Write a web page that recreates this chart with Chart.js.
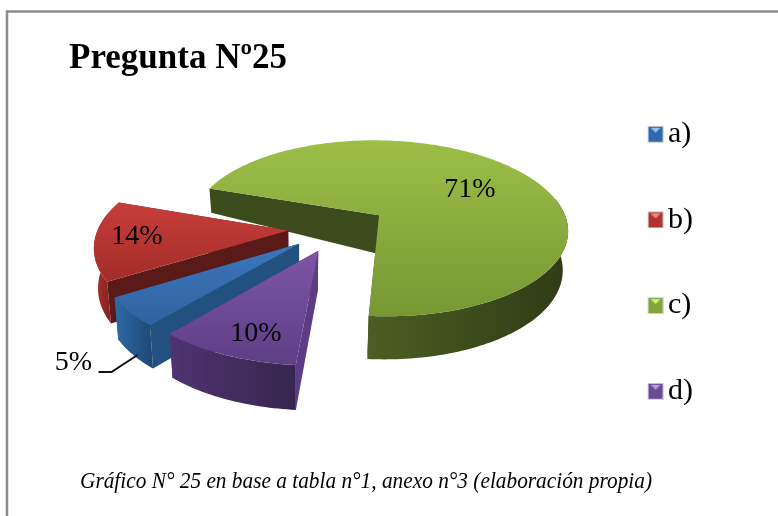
<!DOCTYPE html>
<html>
<head>
<meta charset="utf-8">
<style>
  html, body { margin: 0; padding: 0; background: #fff; }
  canvas { display: block; filter: blur(0.4px); }
</style>
</head>
<body>
<canvas id="pie" width="778" height="516"></canvas>
<script src="https://cdn.jsdelivr.net/npm/chart.js@4"></script>
<script>
const categories = ['a)', 'b)', 'c)', 'd)'];
const values = [5, 14, 71, 10];
const titleText = 'Pregunta Nº25';
const footerText = 'Gráfico N° 25 en base a tabla n°1, anexo n°3 (elaboración propia)';

// top face (light, dark), outer wall (left, right), cut wall
const topColors = [['#3d76bd', '#2e639f'], ['#c73e3a', '#a32c2a'], ['#9dbf48', '#779733'], ['#7d55a6', '#5d3f85']];
const wallColors = [['#2f6aa8', '#1f4a78'], ['#b03330', '#8a2422'], ['#4c5e22', '#2f3b15'], ['#4e3370', '#37264f']];
const cutColors = ['#22507f', '#5a1a18', '#3d4c1c', '#5c3c84'];
const legendColors = ['#2f68ac', '#b23431', '#83a53a', '#694a94'];
const legendTips = ['#8fc4f0', '#f08a86', '#d4ea80', '#bb97e0'];

const labelRadius = [1.44, 0.8, 0.62, 0.82];
const labelShift = [[31, 16], [3, -2], [1, 2], [11, 0]];

const SQUASH = 0.473;
const VANISH = 1260;
const LIFT = 3; // legend keeps the chart area a bit too low

function project(arc, u, v) {
  const s = 1 / (1 - v / VANISH);
  return [arc.x + u * s, arc.y - LIFT + SQUASH * v * s];
}

// how far the wall goes down, it gets shorter towards the back
function drop(p, v) {
  const d = v < -30 ? 39 + (v + 30) * 0.25 : 39 + v * 0.025;
  return [p[0] + (300 - p[0]) * 0.02, p[1] + d];
}

function fillPoly(ctx, pts, fill) {
  ctx.beginPath();
  pts.forEach((p, i) => (i ? ctx.lineTo(p[0], p[1]) : ctx.moveTo(p[0], p[1])));
  ctx.closePath();
  ctx.fillStyle = fill;
  ctx.fill();
}

function drawSlice(ctx, arc, i) {
  const mid = (arc.startAngle + arc.endAngle) / 2;
  const off = arc.options.offset;
  const tipU = off * Math.cos(mid);
  const tipV = off * Math.sin(mid);
  const tip = project(arc, tipU, tipV);
  const tipDown = drop(tip, tipV);

  const rim = [];
  const steps = Math.ceil((arc.endAngle - arc.startAngle) / 0.02);
  for (let k = 0; k <= steps; k++) {
    const a = arc.startAngle + (arc.endAngle - arc.startAngle) * k / steps;
    const v = tipV + arc.outerRadius * Math.sin(a);
    const p = project(arc, tipU + arc.outerRadius * Math.cos(a), v);
    rim.push({ p: p, down: drop(p, v), front: Math.sin(a) > -0.2 });
  }
  const first = rim[0];
  const last = rim[rim.length - 1];

  // cut walls first
  fillPoly(ctx, [tip, first.p, first.down, tipDown], cutColors[i]);
  fillPoly(ctx, [tip, last.p, last.down, tipDown], cutColors[i]);

  // outer wall, only the part looking at us
  const front = rim.filter(r => r.front);
  if (front.length) {
    const xs = front.map(r => r.p[0]);
    const side = ctx.createLinearGradient(Math.min(...xs), 0, Math.max(...xs), 0);
    side.addColorStop(0, wallColors[i][0]);
    side.addColorStop(1, wallColors[i][1]);
    fillPoly(ctx, front.map(r => r.p).concat(front.map(r => r.down).reverse()), side);
  }

  // top face
  const ys = rim.map(r => r.p[1]).concat(tip[1]);
  const face = ctx.createLinearGradient(0, Math.min(...ys), 0, Math.max(...ys));
  face.addColorStop(0, topColors[i][0]);
  face.addColorStop(1, topColors[i][1]);
  fillPoly(ctx, [tip].concat(rim.map(r => r.p)), face);
}

const pie3d = {
  id: 'pie3d',
  beforeDatasetDraw(chart, args) {
    const ctx = chart.ctx;
    const arcs = args.meta.data;
    // back to front
    [2, 1, 0, 3].forEach(i => drawSlice(ctx, arcs[i], i));
    return false;
  },
  afterDatasetsDraw(chart) {
    const ctx = chart.ctx;
    const arcs = chart.getDatasetMeta(0).data;
    ctx.save();
    ctx.fillStyle = '#000';
    ctx.textAlign = 'center';
    ctx.textBaseline = 'middle';
    ctx.font = '28px "Liberation Serif"';
    arcs.forEach((arc, i) => {
      const mid = (arc.startAngle + arc.endAngle) / 2;
      const off = arc.options.offset;
      const r = arc.outerRadius * labelRadius[i] + off;
      const p = project(arc, r * Math.cos(mid), r * Math.sin(mid));
      const x = p[0] + labelShift[i][0];
      const y = p[1] + labelShift[i][1];
      ctx.fillText(values[i] + '%', x, y);
      if (i === 0) {
        // leader line of the outside label
        ctx.beginPath();
        ctx.moveTo(x + 25, y + 9);
        ctx.lineTo(x + 38, y + 9);
        ctx.lineTo(x + 64, y - 8);
        ctx.strokeStyle = '#111';
        ctx.lineWidth = 2;
        ctx.stroke();
      }
    });
    ctx.restore();
  },
  afterDraw(chart) {
    const ctx = chart.ctx;
    ctx.save();
    // frame of the picture, only top and left show
    ctx.strokeStyle = '#8c8c8c';
    ctx.lineWidth = 2.5;
    ctx.beginPath();
    ctx.moveTo(7, 516);
    ctx.lineTo(7, 11.5);
    ctx.lineTo(778, 11.5);
    ctx.stroke();

    ctx.fillStyle = '#000';
    ctx.textBaseline = 'alphabetic';
    ctx.textAlign = 'left';
    ctx.font = 'bold 35px "Liberation Serif"';
    ctx.fillText(titleText, 69, 68, 219);
    ctx.font = 'italic 23px "Liberation Serif"';
    ctx.fillText(footerText, 80, 488, 572);
    ctx.restore();
  }
};

function legendMark(color, tip) {
  // 6px empty on the left, it pushes the square closer to the text
  const c = document.createElement('canvas');
  c.width = 22;
  c.height = 17;
  const g = c.getContext('2d');
  g.fillStyle = '#d8d8d8';
  g.fillRect(6, 0, 16, 17);
  g.fillStyle = color;
  g.fillRect(7, 1, 14, 15);
  g.fillStyle = tip;
  g.beginPath();
  g.moveTo(9, 2);
  g.lineTo(19, 2);
  g.lineTo(14, 7);
  g.closePath();
  g.fill();
  return c;
}

new Chart(document.getElementById('pie'), {
  type: 'pie',
  data: {
    labels: categories,
    datasets: [{
      data: values,
      backgroundColor: legendColors,
      borderWidth: 0,
      offset: 50
    }]
  },
  plugins: [pie3d],
  options: {
    responsive: false,
    animation: false,
    rotation: 220.6,
    radius: 190,
    layout: { padding: { left: 80, right: 75, bottom: 54 } },
    plugins: {
      tooltip: { enabled: false },
      legend: {
        position: 'right',
        align: 'end',
        labels: {
          color: '#000',
          usePointStyle: true,
          pointStyleWidth: 1,
          padding: 55.7,
          font: { family: '"Liberation Serif"', size: 30 },
          generateLabels(chart) {
            return categories.map((c, i) => ({
              text: c,
              index: i,
              pointStyle: legendMark(legendColors[i], legendTips[i]),
              lineWidth: 0,
              hidden: false
            }));
          }
        }
      }
    }
  }
});
</script>
</body>
</html>
